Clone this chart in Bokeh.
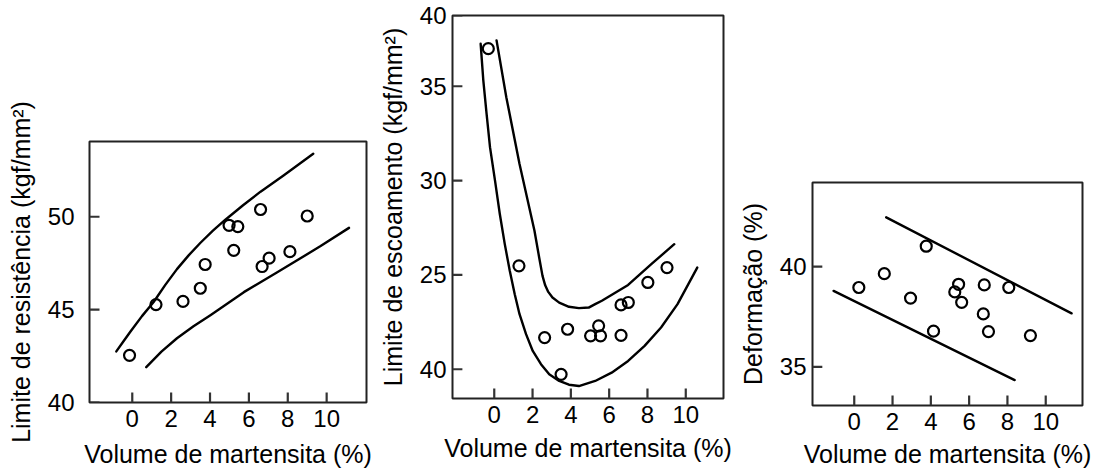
from bokeh.plotting import figure
from bokeh.layouts import row, column
from bokeh.models import FixedTicker, Range1d
from bokeh.embed import file_html
from bokeh.resources import INLINE

# ---------------- data ----------------
x_label = "Volume de martensita (%)"
x_ticks = [0, 2, 4, 6, 8, 10]

# Panel 1: Limite de resistência
p1_ylabel = "Limite de resistência (kgf/mm²)"
p1_yticks = [40, 45, 50]
p1_x = [-0.14, 1.22, 2.61, 3.50, 3.75, 4.98, 5.43, 5.22, 6.60, 6.68, 7.04, 8.11, 9.00]
p1_y = [42.54, 45.27, 45.44, 46.15, 47.43, 49.54, 49.47, 48.19, 50.39, 47.32, 47.77, 48.12, 50.04]
p1_up_x = [-0.82, -0.45, -0.10, 0.50, 1.10, 1.70, 2.30, 2.90, 3.51, 4.15, 4.79, 5.70, 6.60, 7.80, 9.31]
p1_up_y = [42.75, 43.30, 43.81, 44.65, 45.41, 46.33, 47.18, 47.92, 48.60, 49.25, 49.84, 50.62, 51.35, 52.23, 53.39]
p1_lo_x = [0.72, 1.50, 2.30, 3.15, 4.02, 5.74, 7.46, 9.69, 11.15]
p1_lo_y = [41.90, 42.74, 43.46, 44.10, 44.70, 45.94, 47.01, 48.42, 49.40]

# Panel 2: Limite de escoamento
p2_ylabel = "Limite de escoamento (kgf/mm²)"
p2_yticks = [20, 25, 30, 35, 38.75]
p2_ytick_labels = ["40", "25", "30", "35", "40"]
p2_x = [-0.31, 1.29, 2.63, 3.83, 3.49, 5.03, 5.45, 5.55, 6.62, 6.62, 7.00, 8.02, 9.02]
p2_y = [36.99, 25.48, 21.68, 22.12, 19.73, 21.77, 22.30, 21.77, 21.80, 23.41, 23.54, 24.60, 25.39]
p2_in_x = [0.12, 0.63, 1.32, 2.10, 2.35, 2.52, 2.66, 2.82, 3.04, 3.39, 3.90, 4.42, 4.93,
           5.27, 5.62, 6.99, 8.20, 9.40]
p2_in_y = [37.43, 34.42, 30.88, 27.34, 25.90, 24.95, 24.45, 24.10, 23.80, 23.53, 23.31, 23.24, 23.27,
           23.45, 23.63, 24.47, 25.57, 26.63]
p2_out_x = [-0.71, -0.57, -0.40, -0.22, 0.04, 0.29, 0.55, 0.81, 1.07, 1.32, 1.66, 2.01, 2.44,
            2.87, 3.39, 3.90, 4.42, 5.27, 6.13, 6.99, 7.85, 8.71, 9.57, 10.60]
p2_out_y = [37.25, 35.30, 33.53, 31.76, 30.00, 28.23, 26.63, 25.22, 23.98, 22.92, 21.86, 20.97,
            20.27, 19.73, 19.38, 19.18, 19.11, 19.38, 19.82, 20.44, 21.24, 22.21, 23.45, 25.39]

# Panel 3: Deformação
p3_ylabel = "Deformação (%)"
p3_yticks = [35, 40]
p3_x = [0.24, 1.57, 2.94, 3.76, 4.14, 5.25, 5.45, 5.61, 6.79, 6.74, 7.01, 8.07, 9.20]
p3_y = [38.96, 39.65, 38.43, 41.02, 36.78, 38.74, 39.12, 38.22, 39.09, 37.64, 36.76, 38.96, 36.56]
p3_up_x = [1.67, 11.35]
p3_up_y = [42.46, 37.67]
p3_lo_x = [-1.08, 8.38]
p3_lo_y = [38.79, 34.34]

FONT = "Liberation Sans"
TICK_COLOR = "#333333"
TICK_LEN_PX = 10


def make_panel(width, xr, yr, borders, ylabel, yticks, ylab_standoff, xlab_standoff,
               ylabel_standoff, xlabel_standoff):
    p = figure(width=width, height=470, output_backend="svg", toolbar_location=None,
               x_range=Range1d(*xr), y_range=Range1d(*yr))
    left, right, top, bottom = borders
    p.min_border_left, p.min_border_right, p.min_border_top, p.min_border_bottom = borders
    p.xgrid.visible = False
    p.ygrid.visible = False
    p.outline_line_color = "#222222"
    p.outline_line_width = 2
    p.outline_line_alpha = 1
    p.background_fill_color = "white"
    p.border_fill_color = "white"
    for ax in (p.xaxis[0], p.yaxis[0]):
        ax.axis_line_color = None
        ax.minor_tick_line_color = None
        ax.major_tick_in = 0
        ax.major_tick_out = 0
        ax.major_tick_line_color = None
        ax.major_label_text_font = FONT
        ax.major_label_text_font_size = "24px"
        ax.major_label_text_color = "black"
        ax.axis_label_text_font = FONT
        ax.axis_label_text_font_size = "25px"
        ax.axis_label_text_font_style = "normal"
        ax.axis_label_text_color = "black"
    p.xaxis[0].ticker = FixedTicker(ticks=x_ticks)
    p.yaxis[0].ticker = FixedTicker(ticks=yticks)
    p.xaxis[0].axis_label = x_label
    p.yaxis[0].axis_label = ylabel
    p.yaxis[0].major_label_standoff = ylab_standoff
    p.xaxis[0].major_label_standoff = xlab_standoff
    p.yaxis[0].axis_label_standoff = ylabel_standoff
    p.xaxis[0].axis_label_standoff = xlabel_standoff

    # inward tick marks drawn as short lines from the frame edge
    frame_w = width - left - right
    frame_h = 470 - top - bottom
    dy = TICK_LEN_PX * (yr[1] - yr[0]) / frame_h
    dx = TICK_LEN_PX * (xr[1] - xr[0]) / frame_w
    xs_t = [[t, t] for t in x_ticks]
    ys_t = [[yr[0], yr[0] + dy] for _ in x_ticks]
    xs_t += [[xr[0], xr[0] + dx] for _ in yticks]
    ys_t += [[t, t] for t in yticks]
    p.multi_line(xs=xs_t, ys=ys_t, line_color=TICK_COLOR, line_width=2.2)
    return p


def add_marks(p, px, py, curves):
    for cx, cy in curves:
        p.line(cx, cy, line_color="black", line_width=2.4, line_join="round", line_cap="round")
    p.scatter(px, py, marker="circle", size=11, fill_color=None,
              line_color="black", line_width=2.2)


p1 = make_panel(375, (-2.2, 12.05), (40, 54.05), (89, 9, 141, 66),
                p1_ylabel, p1_yticks, 15, 7, 10, 10)
add_marks(p1, p1_x, p1_y, [(p1_up_x, p1_up_y), (p1_lo_x, p1_lo_y)])

p2 = make_panel(360, (-2.18, 11.97), (18.45, 38.75), (74, 12, 15, 72),
                p2_ylabel, p2_yticks, 6, 7, 10, 8)
p2.yaxis[0].major_label_overrides = {t: s for t, s in zip(p2_yticks, p2_ytick_labels)}
add_marks(p2, p2_x, p2_y, [(p2_in_x, p2_in_y), (p2_out_x, p2_out_y)])

p3 = make_panel(369, (-2.18, 11.92), (33.07, 44.2), (72, 22, 182, 63),
                p3_ylabel, p3_yticks, 6, 7, 10, 7)
add_marks(p3, p3_x, p3_y, [(p3_up_x, p3_up_y), (p3_lo_x, p3_lo_y)])

layout = row(column(p1), column(p2), column(p3), spacing=0)
open("out.html", "w").write(file_html(layout, INLINE))
